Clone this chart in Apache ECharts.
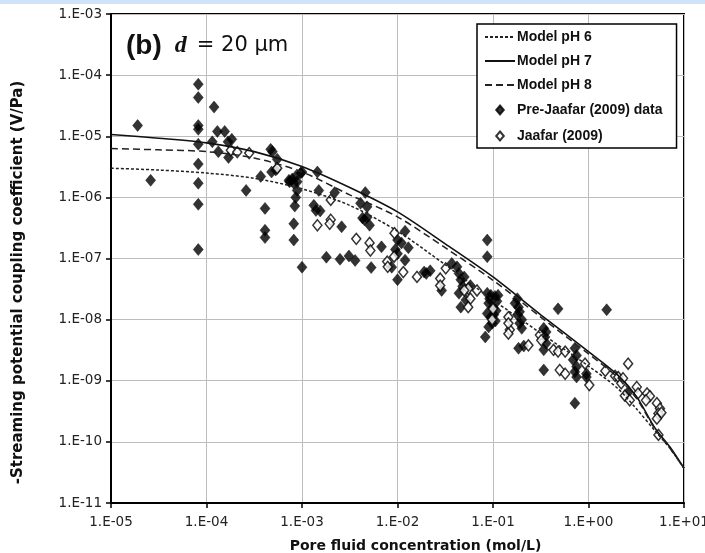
<!DOCTYPE html>
<html><head><meta charset="utf-8">
<script src="https://cdn.jsdelivr.net/npm/echarts@6/dist/echarts.min.js"></script>
<style>html,body{margin:0;padding:0;background:#fff}#c{width:705px;height:553px}</style>
</head><body><div id="c"></div>
<script>
// Model curves: concentration (mol/L)
const modelConc = [1e-5, 3.16e-5, 1e-4, 3.16e-4, 1e-3, 3.16e-3, 1e-2, 3.16e-2, 0.1, 0.316, 1, 2, 3.16, 5, 7.1, 10];
const modelPH6 = [3.0e-6, 2.8e-6, 2.5e-6, 2.05e-6, 1.38e-6, 7.4e-7, 2.8e-7, 7.9e-8, 2.1e-8, 6.0e-9, 1.74e-9, 7.6e-10, 3.5e-10, 1.5e-10, 7.9e-11, 3.7e-11];
const modelPH7 = [1.07e-5, 9.3e-6, 7.8e-6, 5.6e-6, 3.2e-6, 1.45e-6, 5.8e-7, 1.74e-7, 5.0e-8, 1.2e-8, 3.0e-9, 1.26e-9, 5.6e-10, 1.66e-10, 8.3e-11, 3.7e-11];
const modelPH8 = [6.3e-6, 6.0e-6, 5.6e-6, 4.4e-6, 2.6e-6, 1.1e-6, 4.8e-7, 1.5e-7, 4.4e-8, 1.1e-8, 2.75e-9, 1.15e-9, 5.2e-10, 1.6e-10, 7.9e-11, 3.7e-11];

// Pre-Jaafar (2009) data: [concentration, coupling coefficient]
const preJaafar = [
[1.9e-5,1.5e-5],[2.6e-5,1.9e-6],
[8.2e-5,7.1e-5],[8.2e-5,4.3e-5],[8.2e-5,1.5e-5],[8.2e-5,1.3e-5],[8.2e-5,7.4e-6],[8.2e-5,3.5e-6],[8.2e-5,1.7e-6],[8.2e-5,7.7e-7],[8.2e-5,1.4e-7],
[1.2e-4,3.0e-5],[1.3e-4,1.2e-5],[1.55e-4,1.2e-5],[1.15e-4,8.1e-6],[1.33e-4,5.6e-6],[1.68e-4,8.1e-6],[1.84e-4,8.9e-6],[1.7e-4,4.5e-6],
[2.6e-4,1.3e-6],[3.7e-4,2.2e-6],[4.7e-4,6.1e-6],[4.9e-4,5.6e-6],[5.5e-4,4.2e-6],[4.8e-4,2.6e-6],[4.1e-4,6.6e-7],[4.1e-4,2.9e-7],[4.1e-4,2.2e-7],
[7.4e-4,1.8e-6],[5.3e-4,2.8e-6],
[7.3e-4,1.9e-6],[7.9e-4,2.0e-6],[8.6e-4,2.2e-6],[9.7e-4,2.5e-6],[8.2e-4,1.7e-6],[8.9e-4,1.8e-6],[1.0e-3,2.6e-6],[8.9e-4,1.3e-6],[8.6e-4,1.0e-6],
[8.4e-4,7.2e-7],[8.2e-4,3.7e-7],[8.2e-4,2.0e-7],[1.0e-3,7.2e-8],
[1.45e-3,2.6e-6],[1.5e-3,1.3e-6],[2.2e-3,1.2e-6],[1.33e-3,7.4e-7],[1.4e-3,6.1e-7],[1.55e-3,6.0e-7],[2.6e-3,3.3e-7],
[1.8e-3,1.05e-7],[2.5e-3,9.7e-8],[3.1e-3,1.1e-7],[3.6e-3,9.3e-8],
[4.6e-3,1.2e-6],[4.1e-3,8.0e-7],[4.3e-3,4.6e-7],[4.8e-3,4.7e-7],[5.1e-3,3.5e-7],[4.5e-3,4.3e-7],[4.8e-3,7.0e-7],
[6.8e-3,1.55e-7],[5.3e-3,7.1e-8],
[1.0e-2,1.2e-7],[1.2e-2,2.8e-7],[1.0e-2,2.0e-7],[1.1e-2,1.8e-7],[9.5e-3,1.4e-7],[1.3e-2,1.5e-7],[1.2e-2,9.4e-8],[1.0e-2,4.5e-8],[8.7e-3,7.2e-8],
[1.9e-2,6.0e-8],[2.0e-2,5.7e-8],[2.2e-2,6.3e-8],[2.9e-2,3.0e-8],
[3.7e-2,8.3e-8],[4.2e-2,7.3e-8],[4.4e-2,5.7e-8],[4.6e-2,4.5e-8],[4.8e-2,3.5e-8],[5.0e-2,5.0e-8],[4.4e-2,2.7e-8],[5.2e-2,2.1e-8],[4.6e-2,1.6e-8],[5.8e-2,3.6e-8],
[8.7e-2,2.0e-7],[8.7e-2,1.07e-7],
[8.7e-2,2.7e-8],[9.5e-2,2.5e-8],[1.05e-1,2.4e-8],[1.13e-1,2.5e-8],[9.0e-2,1.85e-8],[1.0e-1,1.6e-8],[8.7e-2,1.26e-8],[9.5e-2,1.1e-8],[9.8e-2,8.7e-9],
[9.0e-2,7.6e-9],[8.3e-2,5.2e-9],[1.08e-1,1.4e-8],[1.1e-1,2.0e-8],[9.2e-2,2.2e-8],[1.02e-1,1.2e-8],[1.06e-1,9.5e-9],
[1.7e-1,1.85e-8],[1.85e-1,1.6e-8],[1.9e-1,1.35e-8],[1.8e-1,1.2e-8],[2.0e-1,1.0e-8],[1.9e-1,8.7e-9],[2.0e-1,7.2e-9],[1.8e-1,2.2e-8],
[1.85e-1,3.4e-9],[2.1e-1,3.7e-9],
[4.8e-1,1.5e-8],[1.55,1.45e-8],
[3.4e-1,7.2e-9],[3.6e-1,6.3e-9],[3.5e-1,5.2e-9],[3.6e-1,4.1e-9],[3.4e-1,3.2e-9],[3.4e-1,1.5e-9],
[7.2e-1,3.4e-9],[7.5e-1,2.6e-9],[6.9e-1,2.2e-9],[7.5e-1,1.7e-9],[7.2e-1,1.4e-9],[7.5e-1,1.15e-9],[9.5e-1,1.15e-9],[9.5e-1,1.3e-9],
[7.2e-1,4.3e-10],[2.6,6.5e-10]
];

// Jaafar (2009) data
const jaafar = [
[1.8e-4,5.9e-6],[2.1e-4,5.5e-6],[2.8e-4,5.3e-6],[5.5e-4,3.0e-6],
[2.0e-3,9.1e-7],[2.0e-3,4.3e-7],[1.95e-3,3.7e-7],[1.45e-3,3.5e-7],[3.7e-3,2.1e-7],[5.1e-3,1.8e-7],[5.2e-3,1.35e-7],
[7.8e-3,8.9e-8],[7.9e-3,7.3e-8],[9.3e-3,2.6e-7],[9.2e-3,1.07e-7],
[1.15e-2,6.0e-8],[1.6e-2,5.0e-8],[2.8e-2,4.7e-8],[2.8e-2,3.6e-8],[3.2e-2,6.9e-8],
[5.5e-2,3.2e-8],[6.8e-2,3.0e-8],[5.8e-2,2.2e-8],[5.5e-2,1.6e-8],[5.0e-2,3.0e-8],
[1.0e-1,1.5e-8],[9.8e-2,1.0e-8],
[1.45e-1,1.1e-8],[1.5e-1,6.8e-9],[1.45e-1,8.7e-9],[1.45e-1,5.9e-9],
[2.35e-1,3.8e-9],[3.1e-1,5.6e-9],[3.2e-1,4.6e-9],
[4.3e-1,3.2e-9],[4.8e-1,3.0e-9],[5.7e-1,3.0e-9],[5.0e-1,1.5e-9],[5.7e-1,1.3e-9],
[9.2e-1,1.9e-9],[1.02,8.5e-10],[1.5,1.45e-9],[2.6,1.9e-9],
[1.9,1.2e-9],[2.05,1.15e-9],[2.2,9.1e-10],[2.3,1.1e-9],[2.4,5.7e-10],[2.7,4.8e-10],
[3.2,7.9e-10],[3.3,6.2e-10],[4.1,6.2e-10],[4.4,5.6e-10],[4.0,4.8e-10],
[5.2,4.3e-10],[5.6,3.5e-10],[5.4,2.9e-10],[5.8,3.0e-10],[5.2,2.4e-10],[5.4,1.3e-10]
];

const seriesNames = ['Model pH 6', 'Model pH 7', 'Model pH 8', 'Pre-Jaafar (2009) data', 'Jaafar (2009)'];
const xAxisName = 'Pore fluid concentration (mol/L)';
const yAxisName = '-Streaming potential coupling coefficient (V/Pa)';

function sciLabel(v) {
  const e = Math.round(Math.log10(v));
  return '1.E' + (e < 0 ? '-' : '+') + String(Math.abs(e)).padStart(2, '0');
}
function pairs(xs, ys) { return xs.map((x, i) => [x, ys[i]]); }

const smallDiamond = 'path://M0,0 M30,14 M15,2.5 L18.8,7 L15,11.5 L11.2,7 Z';
const chart = echarts.init(document.getElementById('c'));
const lineBase = { type: 'line', symbol: 'none', smooth: 0.3, z: 3, silent: true };
const tickFont = 'DejaVu Sans, Verdana, sans-serif';
const hideSym = { opacity: 0 };
chart.setOption({
  animation: false,
  backgroundColor: '#ffffff',
  textStyle: { fontFamily: 'Liberation Sans, Arial, sans-serif' },
  graphic: [{ type: 'rect', left: 0, top: 0, shape: { width: 705, height: 4 }, style: { fill: '#cfe5f7' } }],
  title: {
    left: 121, top: 27,
    text: '{b|(b)}{s|}{i|d}{n|= 20 μm}',
    textStyle: {
      rich: {
        b: { fontSize: 28, fontWeight: 'bold', fontFamily: 'Liberation Sans, Arial', color: '#111' },
        s: { width: 13 },
        i: { fontSize: 24, fontStyle: 'italic', fontWeight: 'bold', fontFamily: 'Liberation Serif, Times New Roman, serif', color: '#111', padding: [0, 10, 0, 0] },
        n: { fontSize: 21, fontWeight: 'normal', fontFamily: tickFont, color: '#111' }
      }
    }
  },
  legend: {
    orient: 'vertical', left: 477, top: 24,
    backgroundColor: '#fff', borderColor: '#000', borderWidth: 1.5, borderRadius: 0,
    padding: [6, 14, 4, 7],
    itemWidth: 30, itemHeight: 14, itemGap: 10,
    textStyle: { fontSize: 14, fontWeight: 'bold', color: '#111', fontFamily: 'Liberation Sans Narrow, Arial Narrow, Liberation Sans, sans-serif', padding: [0, 0, 0, -3] },
    data: [
      { name: seriesNames[0], itemStyle: hideSym }, { name: seriesNames[1], itemStyle: hideSym }, { name: seriesNames[2], itemStyle: hideSym },
      { name: seriesNames[3], icon: smallDiamond },
      { name: seriesNames[4], icon: smallDiamond }
    ]
  },
  grid: { left: 111, right: 21, top: 14, bottom: 50, show: true, borderColor: '#000', borderWidth: 2, backgroundColor: 'transparent', outerBoundsMode: 'none', containLabel: false },
  xAxis: {
    type: 'log', logBase: 10, min: 1e-5, max: 10,
    name: xAxisName, nameLocation: 'middle', nameGap: 36,
    nameTextStyle: { fontSize: 14, fontWeight: 'bold', color: '#111', fontFamily: tickFont, padding: [0, 0, 0, 36] },
    axisLine: { lineStyle: { color: '#000', width: 2 } },
    axisTick: { show: true, length: 5, lineStyle: { color: '#000', width: 1.5 } },
    minorTick: { show: false },
    splitLine: { show: true, lineStyle: { color: '#bdbdbd', width: 1 } },
    axisLabel: { formatter: sciLabel, fontSize: 13.5, color: '#222', margin: 12, fontFamily: tickFont }
  },
  yAxis: {
    type: 'log', logBase: 10, min: 1e-11, max: 1e-3,
    name: yAxisName, nameLocation: 'middle', nameGap: 85, nameRotate: 90,
    nameTextStyle: { fontSize: 15, fontWeight: 'bold', color: '#111', fontFamily: tickFont, padding: [0, 48, 0, 0] },
    axisLine: { lineStyle: { color: '#000', width: 2 } },
    axisTick: { show: true, length: 5, lineStyle: { color: '#000', width: 1.5 } },
    splitLine: { show: true, lineStyle: { color: '#bdbdbd', width: 1 } },
    axisLabel: { formatter: sciLabel, fontSize: 13.5, color: '#222', margin: 9, fontFamily: tickFont }
  },
  series: [
    Object.assign({}, lineBase, { name: seriesNames[0], data: pairs(modelConc, modelPH6), lineStyle: { color: '#222', width: 1.5, type: [3, 2] }, itemStyle: { color: '#222' } }),
    Object.assign({}, lineBase, { name: seriesNames[1], data: pairs(modelConc, modelPH7), lineStyle: { color: '#111', width: 1.6, type: 'solid' }, itemStyle: { color: '#111' } }),
    Object.assign({}, lineBase, { name: seriesNames[2], data: pairs(modelConc, modelPH8), lineStyle: { color: '#222', width: 1.5, type: [7, 4] }, itemStyle: { color: '#222' } }),
    { type: 'scatter', name: seriesNames[3], data: preJaafar, symbol: 'diamond', symbolSize: [10, 12], z: 2,
      itemStyle: { color: '#000', borderColor: '#000', borderWidth: 0.5 } },
    { type: 'scatter', name: seriesNames[4], data: jaafar, symbol: 'diamond', symbolSize: [9, 11], z: 2,
      itemStyle: { color: '#fff', borderColor: '#000', borderWidth: 1.5 } }
  ]
});
</script></body></html>
